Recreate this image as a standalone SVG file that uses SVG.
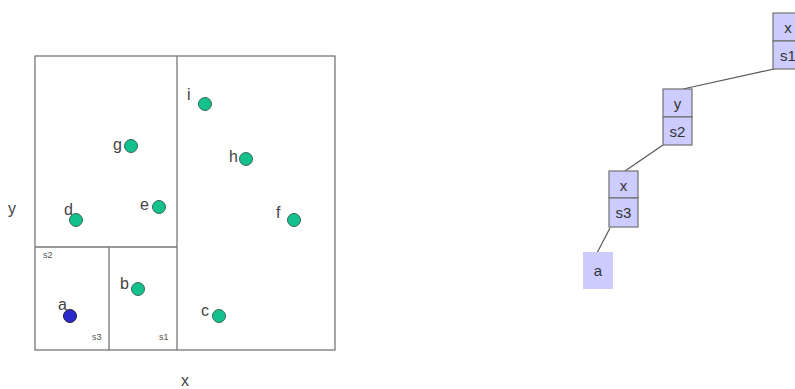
<svg xmlns="http://www.w3.org/2000/svg" width="795" height="389" viewBox="0 0 795 389">
<style>
.ln{stroke:#777;stroke-width:1.3;fill:none}
.pt{fill:#14c08c;stroke:#3a6a5a;stroke-width:1}
.pa{fill:#2a2acc;stroke:#223;stroke-width:1}
.lb{font-family:"Liberation Sans",Arial,sans-serif;font-size:16px;fill:#444}
.sm{font-family:"Liberation Sans",Arial,sans-serif;font-size:9px;fill:#555}
.bx{fill:#ccccff;stroke:#707070;stroke-width:1.2}
.tx{font-family:"Liberation Sans",Arial,sans-serif;font-size:15px;fill:#333;text-anchor:middle}
.ed{stroke:#555;stroke-width:1.2;fill:none}
</style>
<rect width="795" height="389" fill="#fff"/>
<g id="plane">
<rect class="ln" x="35" y="56" width="300" height="294"/>
<line class="ln" x1="177" y1="56" x2="177" y2="350"/>
<line class="ln" x1="35" y1="247" x2="177" y2="247"/>
<line class="ln" x1="109" y1="247" x2="109" y2="350"/>
<text class="sm" x="43" y="258">s2</text>
<text class="sm" x="92" y="340">s3</text>
<text class="sm" x="159" y="340">s1</text>
<text class="lb" x="8" y="214">y</text>
<text class="lb" x="181" y="386">x</text>
</g>
<g id="point-i"><text class="lb" x="187" y="100">i</text><circle class="pt" cx="205" cy="104" r="6.5"/></g>
<g id="point-g"><text class="lb" x="113" y="150">g</text><circle class="pt" cx="131" cy="146" r="6.5"/></g>
<g id="point-h"><text class="lb" x="229" y="162">h</text><circle class="pt" cx="246" cy="159" r="6.5"/></g>
<g id="point-e"><text class="lb" x="140" y="210">e</text><circle class="pt" cx="159" cy="207" r="6.5"/></g>
<g id="point-d"><text class="lb" x="64" y="215">d</text><circle class="pt" cx="76" cy="220" r="6.5"/></g>
<g id="point-f"><text class="lb" x="276" y="218">f</text><circle class="pt" cx="294" cy="220" r="6.5"/></g>
<g id="point-b"><text class="lb" x="120" y="289">b</text><circle class="pt" cx="138" cy="289" r="6.5"/></g>
<g id="point-a"><text class="lb" x="58" y="310">a</text><circle class="pa" cx="70" cy="316" r="6.5"/></g>
<g id="point-c"><text class="lb" x="201" y="316">c</text><circle class="pt" cx="219" cy="316" r="6.5"/></g>
<g id="connectors">
<line class="ed" x1="774" y1="69" x2="683" y2="89"/>
<line class="ed" x1="663" y1="145" x2="625" y2="171"/>
<line class="ed" x1="610" y1="228" x2="597" y2="253"/>
</g>
<g id="node-x-s1">
<rect class="bx" x="773" y="13" width="29" height="28"/>
<rect class="bx" x="773" y="41" width="29" height="28"/>
<text class="tx" x="788" y="33">x</text>
<text class="tx" x="788" y="61">s1</text>
</g>
<g id="node-y-s2">
<rect class="bx" x="663" y="89" width="29" height="28"/>
<rect class="bx" x="663" y="117" width="29" height="28"/>
<text class="tx" x="677.5" y="109">y</text>
<text class="tx" x="677.5" y="137">s2</text>
</g>
<g id="node-x-s3">
<rect class="bx" x="609" y="171" width="29" height="27"/>
<rect class="bx" x="609" y="198" width="29" height="29"/>
<text class="tx" x="623.5" y="191">x</text>
<text class="tx" x="623.5" y="218">s3</text>
</g>
<g id="leaf-a">
<rect x="583" y="252" width="30" height="37" fill="#ccccff"/>
<text class="tx" x="598" y="276">a</text>
</g>
</svg>
